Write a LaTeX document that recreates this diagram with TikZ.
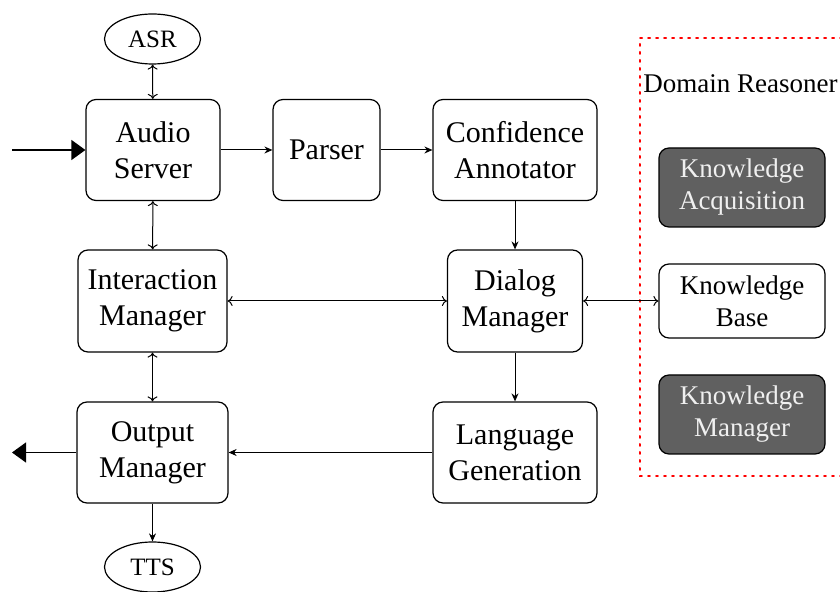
\documentclass[tikz,border=0pt]{standalone}
\usepackage{fontspec}
\setmainfont{Liberation Serif}
\usetikzlibrary{arrows.meta,shapes.geometric}
\definecolor{darkbox}{RGB}{96,96,96}
\definecolor{lighttext}{RGB}{240,240,240}
\tikzset{
  module/.style={draw, line width=0.6pt, rounded corners=5pt, align=center,
    inner sep=2pt, font=\fontsize{15}{18}\selectfont},
  kbox/.style={draw, line width=0.6pt, rounded corners=5pt, align=center,
    inner sep=2pt, minimum width=83pt, font=\fontsize{13.5}{16}\selectfont},
  darkkbox/.style={kbox, fill=darkbox, text=lighttext},
  io/.style={draw, ellipse, line width=0.6pt, inner sep=0pt,
    minimum width=48pt, minimum height=25pt, font=\fontsize{12.5}{15}\selectfont},
  flow/.style={line width=0.5pt, -{Stealth[length=4pt,width=3.5pt]}},
  both/.style={line width=0.5pt, {To[length=2.5pt,width=5pt]}-{To[length=2.5pt,width=5pt]}},
  bigtip/.style={line width=0.6pt, -{Triangle[length=7pt,width=10pt]}},
  region/.style={draw=red, line width=1pt, dash pattern=on 0.9pt off 3.1pt, line cap=round}
}
\begin{document}
\begin{tikzpicture}[x=0.5pt,y=-0.5pt]
\useasboundingbox (0,0) rectangle (840,592);
\clip (0,0) rectangle (840,592);

% domain reasoner region
\draw[region] (850,38) -- (640,38) -- (640,476) -- (850,476);
\node[anchor=west, inner sep=0pt, font=\fontsize{13.5}{16}\selectfont] (dr) at (643,84) {Domain Reasoner};

% main pipeline modules
\node[module, minimum width=67pt, minimum height=50.5pt] (audio) at (153,150) {Audio\\Server};
\node[module, minimum width=53.5pt, minimum height=50.5pt] (parser) at (326.5,150) {Parser};
\node[module, minimum width=82pt, minimum height=50.5pt] (conf) at (515,150) {Confidence\\Annotator};
\node[module, minimum width=74.5pt, minimum height=51pt] (inter) at (152.5,301) {Interaction\\Manager};
\node[module, minimum width=67.5pt, minimum height=51pt] (dialog) at (515,301) {Dialog\\Manager};
\node[module, minimum width=75.5pt, minimum height=50.5pt] (output) at (152.5,452.5) {Output\\Manager};
\node[module, minimum width=82pt, minimum height=50.5pt] (lang) at (515,452.5) {Language\\Generation};

% speech input / output
\node[io] (asr) at (152.5,39) {ASR};
\node[io] (tts) at (152.5,567) {TTS};

% knowledge components
\node[darkkbox, minimum height=39.5pt] (ka) at (742,187.5) {Knowledge\\Acquisition};
\node[kbox, minimum height=37pt] (kb) at (742,301) {Knowledge\\Base};
\node[darkkbox, minimum height=39.5pt] (km) at (742,414.5) {Knowledge\\Manager};

% external input and output
\coordinate (in) at (12,150);
\coordinate (out) at (12,452.5);
\draw[bigtip] (in) -- (audio.west);
\draw[bigtip] (output.west) -- (out);

% one-way flow
\draw[flow] (audio) -- (parser);
\draw[flow] (parser) -- (conf);
\draw[flow] (conf) -- (dialog);
\draw[flow] (dialog) -- (lang);
\draw[flow] (lang) -- (output);
\draw[flow] (output) -- (tts);

% two-way links
\draw[both] (asr) -- (audio);
\draw[both] (audio) -- (inter);
\draw[both] (inter) -- (output);
\draw[both] (inter) -- (dialog);
\draw[both] (dialog) -- (kb);
\end{tikzpicture}
\end{document}
